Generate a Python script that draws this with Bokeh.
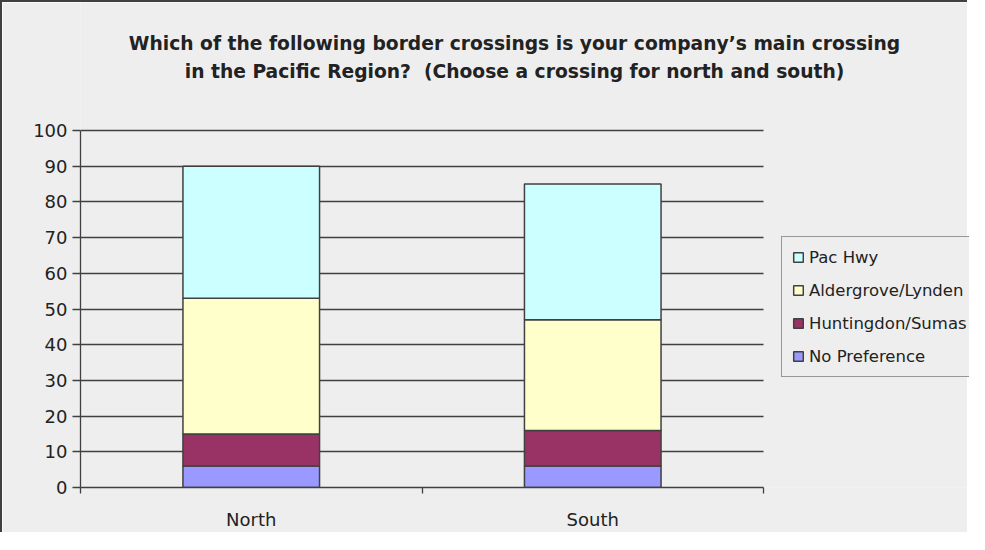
from bokeh.plotting import figure
from bokeh.models import (ColumnDataSource, FixedTicker, Legend, LegendItem,
                          Range1d, Label, BoxAnnotation)
from bokeh.embed import file_html
from bokeh.resources import INLINE

categories = ["North", "South"]
no_preference = [6, 6]
huntingdon_sumas = [9, 10]
aldergrove_lynden = [38, 31]
pac_hwy = [37, 38]

series = ["No Preference", "Huntingdon/Sumas", "Aldergrove/Lynden", "Pac Hwy"]
colors = ["#9999FF", "#993366", "#FFFFCC", "#CCFFFF"]
y_ticks = [0, 10, 20, 30, 40, 50, 60, 70, 80, 90, 100]
title_lines = ["Which of the following border crossings is your company\u2019s main crossing",
               "in the Pacific Region?\u00a0 (Choose a crossing for north and south)"]

n = len(categories)
xpos = [i + 0.5 for i in range(n)]
source = ColumnDataSource(dict(
    x=xpos,
    **{"No Preference": no_preference,
       "Huntingdon/Sumas": huntingdon_sumas,
       "Aldergrove/Lynden": aldergrove_lynden,
       "Pac Hwy": pac_hwy}))

BG = "#EEEEEE"
DARK = "#404040"
TXT = "#222222"
FONT = "DejaVu Sans"

W, H = 967, 532
B = 2  # css border width
LEFT, PLOT_RIGHT, PLOT_TOP, BOTTOM = 80 - B, 763 - B, 130 - B, 487 - B
frame_w = W - LEFT
frame_h = BOTTOM
x_end = n * frame_w / (PLOT_RIGHT - LEFT)
y_end = 100 * frame_h / (BOTTOM - PLOT_TOP)

p = figure(width=W, height=H, output_backend="svg", toolbar_location=None,
           x_range=Range1d(0, x_end), y_range=Range1d(0, y_end),
           min_border_left=LEFT, min_border_right=0, min_border_top=0,
           min_border_bottom=H - BOTTOM)
p.background_fill_color = BG
p.border_fill_color = BG
p.outline_line_color = None

# mask grid lines to the right of the plot area (drawn over the grid)
p.add_layout(BoxAnnotation(left=n, fill_color=BG, fill_alpha=1, line_color=None,
                           level="underlay"))

renderers = p.vbar_stack(series, x="x", width=0.4, source=source,
                         fill_color=colors, line_color=DARK, line_width=1.5)

# Title lines
for i, t in enumerate(title_lines):
    p.add_layout(Label(x=514 - B - LEFT, y=BOTTOM - (43 - B + 28 * i), x_units="screen",
                       y_units="screen", text=t, text_align="center",
                       text_baseline="middle", text_font=FONT,
                       text_font_size="18.7px", text_font_style="bold",
                       text_color=TXT))

# Y axis
p.yaxis.ticker = FixedTicker(ticks=y_ticks)
p.yaxis.bounds = (0, 100)
p.yaxis.major_tick_out = 8
p.yaxis.major_tick_in = 0
p.yaxis.minor_tick_line_color = None
p.yaxis.axis_line_color = DARK
p.yaxis.axis_line_width = 1.3
p.yaxis.major_tick_line_color = DARK
p.yaxis.major_tick_line_width = 1.3
p.yaxis.major_label_text_font = FONT
p.yaxis.major_label_text_font_size = "18px"
p.yaxis.major_label_text_color = TXT
p.yaxis.major_label_standoff = 5

# X axis
p.xaxis.ticker = FixedTicker(ticks=xpos, minor_ticks=list(range(n + 1)))
p.xaxis.bounds = (0, n)
p.xaxis.major_label_overrides = {x: c for x, c in zip(xpos, categories)}
p.xaxis.major_tick_out = 0
p.xaxis.major_tick_in = 0
p.xaxis.minor_tick_out = 6
p.xaxis.minor_tick_in = 0
p.xaxis.axis_line_color = DARK
p.xaxis.axis_line_width = 1.3
p.xaxis.minor_tick_line_color = DARK
p.xaxis.minor_tick_line_width = 1.3
p.xaxis.major_label_text_font = FONT
p.xaxis.major_label_text_font_size = "18px"
p.xaxis.major_label_text_color = TXT
p.xaxis.major_label_standoff = 15

p.xgrid.grid_line_color = None
p.ygrid.grid_line_color = DARK
p.ygrid.grid_line_width = 1.3
p.ygrid.ticker = FixedTicker(ticks=y_ticks)

items = [LegendItem(label=s, renderers=[r]) for s, r in zip(series, renderers)][::-1]
legend = Legend(items=items, location=(781 - B - LEFT, BOTTOM - (377 - B)),
                orientation="vertical",
                background_fill_color=BG, background_fill_alpha=1,
                border_line_color=DARK, border_line_width=1.3,
                label_text_font=FONT, label_text_font_size="16.5px",
                label_text_color=TXT,
                glyph_width=12, glyph_height=12, label_standoff=5,
                spacing=13, padding=10, margin=0, label_height=20)
p.add_layout(legend, "center")

p.styles = {"border-left": f"{B}px solid #404040", "border-top": f"{B}px solid #404040"}

open("out.html", "w").write(file_html(p, INLINE))
